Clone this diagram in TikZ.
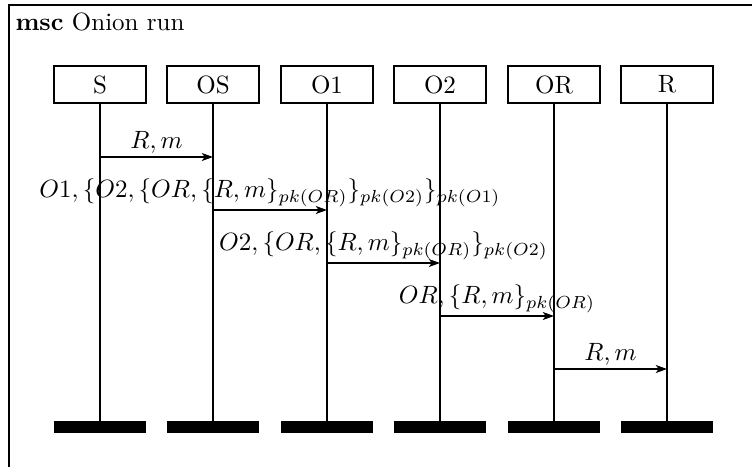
\documentclass[tikz,border=0pt]{standalone}
\usetikzlibrary{arrows.meta}
\begin{document}
\begin{tikzpicture}[x=0.4pt,y=-0.4pt,
  head/.style={draw,line width=0.5pt,minimum width=36.8pt,minimum height=14.8pt,inner sep=0pt,font=\normalsize},
  bar/.style={fill=black,minimum width=36.8pt,minimum height=4.8pt,inner sep=0pt},
  life/.style={line width=0.6pt},
  msg/.style={line width=0.5pt,-{Stealth[length=4.5pt,width=3.2pt,inset=1.2pt]}},
  lbl/.style={midway,above,inner sep=1.2pt}]
\useasboundingbox (0,0) rectangle (752,467);
\draw[line width=0.8pt] (9,467) -- (9,5) -- (752,5);
\node[anchor=west,inner sep=0pt] (title) at (15,22) {\textbf{msc} Onion run};
\foreach \n/\t/\x in {S/S/100,OS/OS/213,O1/O1/327,O2/O2/440,OR/OR/554,R/R/667}{
  \node[head] (\n) at (\x,84.5) {\t};
  \node[bar] (\n bar) at (\x,427) {};
  \draw[life] (\n.south) -- (\n bar.north);
}
\coordinate (m1) at (0,157);
\coordinate (m2) at (0,210);
\coordinate (m3) at (0,263);
\coordinate (m4) at (0,316);
\coordinate (m5) at (0,369);
\draw[msg] (S |- m1) -- node[lbl] {$R,m$} (OS |- m1);
\draw[msg] (OS |- m2) -- node[lbl] {$O1,\{O2,\{OR,\{R,m\}_{pk(OR)}\}_{pk(O2)}\}_{pk(O1)}$} (O1 |- m2);
\draw[msg] (O1 |- m3) -- node[lbl] {$O2,\{OR,\{R,m\}_{pk(OR)}\}_{pk(O2)}$} (O2 |- m3);
\draw[msg] (O2 |- m4) -- node[lbl] {$OR,\{R,m\}_{pk(OR)}$} (OR |- m4);
\draw[msg] (OR |- m5) -- node[lbl] {$R,m$} (R |- m5);
\end{tikzpicture}
\end{document}
